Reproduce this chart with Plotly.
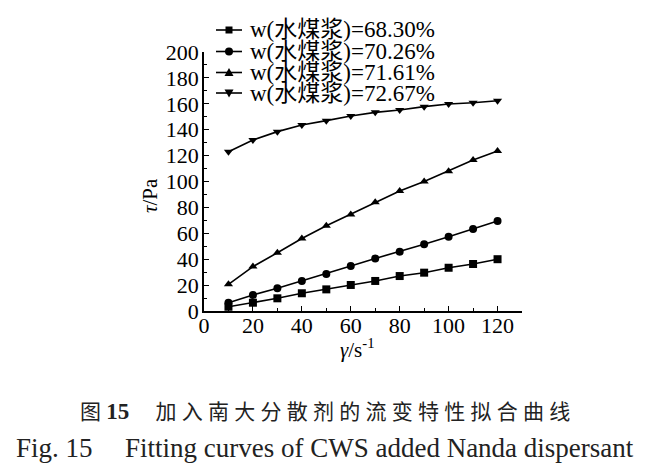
import plotly.graph_objects as go

shear_rate = [10, 20, 30, 40, 50, 60, 70, 80, 90, 100, 110, 120]
series_names = ["w(水煤浆)=68.30%", "w(水煤浆)=70.26%", "w(水煤浆)=71.61%", "w(水煤浆)=72.67%"]
tau_6830 = [3.3, 6.4, 9.8, 13.7, 16.7, 20.1, 23.2, 27.0, 29.6, 33.4, 36.3, 40.0]
tau_7026 = [6.4, 12.4, 17.5, 23.2, 28.5, 34.7, 40.6, 45.8, 51.5, 57.4, 63.3, 69.5]
tau_7161 = [20.6, 34.3, 45.0, 56.0, 65.8, 74.6, 84.0, 92.7, 100.0, 108.0, 116.6, 123.6]
tau_7267 = [123.0, 132.0, 138.5, 143.6, 147.0, 150.6, 153.4, 155.2, 157.8, 159.8, 160.8, 162.4]
series_values = [tau_6830, tau_7026, tau_7161, tau_7267]
symbols = ["square", "circle", "triangle-up", "triangle-down"]
x_ticks = [0, 20, 40, 60, 80, 100, 120]
y_ticks = [0, 20, 40, 60, 80, 100, 120, 140, 160, 180, 200]

W, H = 650, 476
L, R, T, B = 204, 522, 52, 311

def px(x):
    return (x - L) / (R - L)

def py(y):
    return (B - y) / (B - T)

SERIF = "Liberation Serif, Times New Roman, Noto Sans CJK SC, serif"

fig = go.Figure()
for name, vals, sym in zip(series_names, series_values, symbols):
    fig.add_trace(go.Scatter(
        x=shear_rate, y=vals, mode="lines+markers", name=name,
        line=dict(color="black", width=1.6),
        marker=dict(symbol=sym, size=8, color="black"),
        showlegend=False, cliponaxis=False,
    ))

# manual legend
legend_rows = [30, 51.5, 72.5, 93]
shapes = []
annotations = []
for name, sym, yy in zip(series_names, symbols, legend_rows):
    shapes.append(dict(type="line", xref="paper", yref="paper",
                       x0=px(216), x1=px(242), y0=py(yy), y1=py(yy),
                       line=dict(color="black", width=1.6)))
    cx, cy = px(229), py(yy)
    if sym == "square":
        shapes.append(dict(type="rect", xref="paper", yref="paper", xsizemode="pixel", ysizemode="pixel",
                           xanchor=cx, yanchor=cy, x0=-3.5, x1=3.5, y0=-3.5, y1=3.5,
                           fillcolor="black", line=dict(width=0)))
    elif sym == "circle":
        shapes.append(dict(type="circle", xref="paper", yref="paper", xsizemode="pixel", ysizemode="pixel",
                           xanchor=cx, yanchor=cy, x0=-4, x1=4, y0=-4, y1=4,
                           fillcolor="black", line=dict(width=0)))
    elif sym == "triangle-up":
        shapes.append(dict(type="path", xref="paper", yref="paper", xsizemode="pixel", ysizemode="pixel",
                           xanchor=cx, yanchor=cy, path="M -4.5 -3.5 L 4.5 -3.5 L 0 4.5 Z",
                           fillcolor="black", line=dict(width=0)))
    else:
        shapes.append(dict(type="path", xref="paper", yref="paper", xsizemode="pixel", ysizemode="pixel",
                           xanchor=cx, yanchor=cy, path="M -4.5 3.5 L 4.5 3.5 L 0 -4.5 Z",
                           fillcolor="black", line=dict(width=0)))
    annotations.append(dict(text=name, xref="paper", yref="paper", x=px(248), y=py(yy),
                            xanchor="left", yanchor="middle", showarrow=False,
                            font=dict(family=SERIF, size=23, color="black")))

# axis titles
annotations.append(dict(text="<i>γ</i>/s<sup>-1</sup>", xref="paper", yref="paper", x=px(357), y=py(348),
                        xanchor="center", yanchor="middle", showarrow=False,
                        font=dict(family=SERIF, size=21, color="black")))
annotations.append(dict(text="<i>τ</i>/Pa", xref="paper", yref="paper", x=px(150), y=py(196),
                        xanchor="center", yanchor="middle", showarrow=False, textangle=-90,
                        font=dict(family=SERIF, size=21, color="black")))

# captions
cn = "\u2005".join(list("加入南大分散剂的流变特性拟合曲线"))
annotations.append(dict(text="图\u2005<span style='font-family:Liberation Serif;font-size:23px'><b>15</b></span>\u2003\u2005" + cn,
                        xref="paper", yref="paper", x=px(325), y=py(410),
                        xanchor="center", yanchor="middle", showarrow=False,
                        font=dict(family="Noto Sans CJK SC, Liberation Serif", size=21, color="#222")))
annotations.append(dict(text="Fig. 15\u2003\u2009Fitting curves of CWS added Nanda dispersant", xref="paper", yref="paper",
                        x=px(325), y=py(448), xanchor="center", yanchor="middle", showarrow=False,
                        font=dict(family=SERIF, size=27, color="#222")))

axis_common = dict(showgrid=False, zeroline=False, showline=True, linecolor="black", linewidth=1.6,
                   ticks="inside", ticklen=5, tickwidth=1.4, tickcolor="black",
                   tickfont=dict(family=SERIF, size=22, color="black"),
                   minor=dict(ticks="inside", ticklen=3, tickwidth=1.2, tickcolor="black", dtick=10))

fig.update_layout(
    width=W, height=H, margin=dict(l=L, r=W - R, t=T, b=H - B),
    paper_bgcolor="white", plot_bgcolor="white",
    xaxis=dict(range=[0, 130], tickvals=x_ticks, ticktext=[str(v) for v in x_ticks],
               ticklabelstandoff=-6, **axis_common),
    yaxis=dict(range=[0, 200], tickvals=y_ticks, ticktext=[str(v) for v in y_ticks],
               ticklabelstandoff=-1, **axis_common),
    shapes=shapes, annotations=annotations, showlegend=False,
)
fig.write_html("out.html")
